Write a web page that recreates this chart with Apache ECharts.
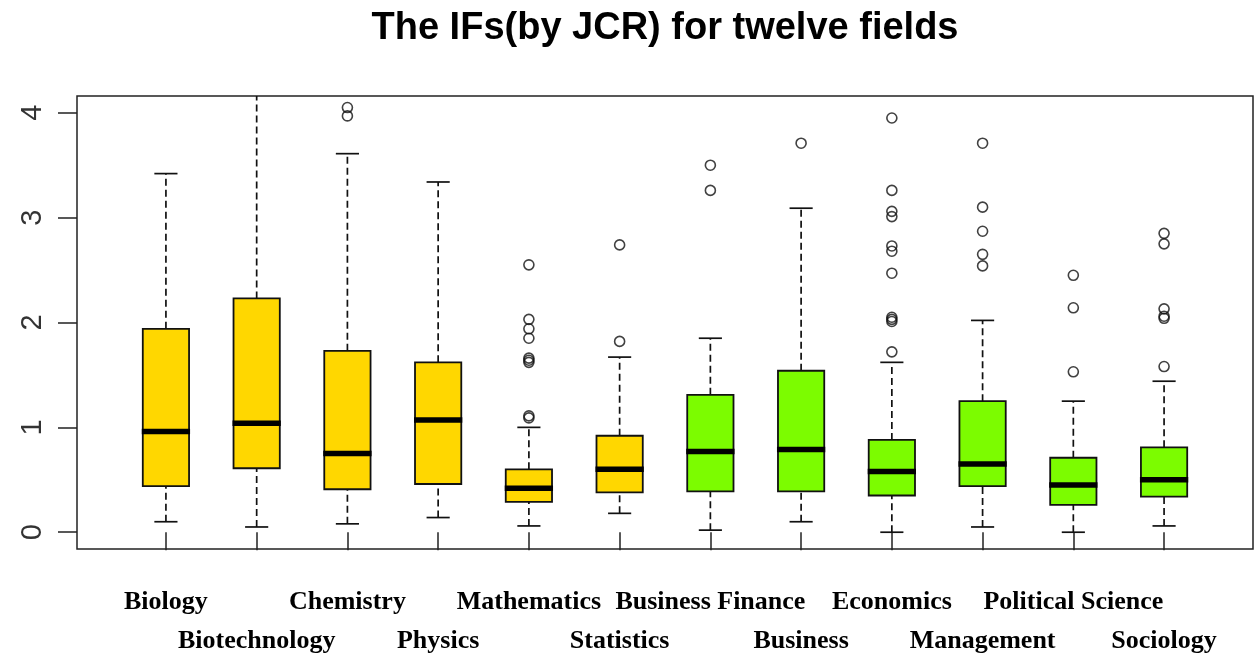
<!DOCTYPE html>
<html>
<head>
<meta charset="utf-8">
<script src="https://cdn.jsdelivr.net/npm/echarts@6/dist/echarts.min.js"></script>
<style>
  html, body { margin: 0; padding: 0; background: #fff; }
  #chart { width: 1255px; height: 661px; }
</style>
</head>
<body>
<div id="chart"></div>
<script>
// Journal impact factors (JCR) per field: five-number summaries plus outliers
const fields = ['Biology', 'Biotechnology', 'Chemistry', 'Physics', 'Mathematics', 'Statistics',
  'Business Finance', 'Business', 'Economics', 'Management', 'Political Science', 'Sociology'];
// 0 = natural sciences (gold), 1 = social sciences (green)
const fieldGroup = [0, 0, 0, 0, 0, 0, 1, 1, 1, 1, 1, 1];
const whiskerLow  = [0.10, 0.05, 0.08, 0.14, 0.06, 0.18, 0.02, 0.10, 0.00, 0.05, 0.00, 0.06];
const quartile1   = [0.44, 0.61, 0.41, 0.46, 0.29, 0.38, 0.39, 0.39, 0.35, 0.44, 0.26, 0.34];
const medians     = [0.96, 1.04, 0.75, 1.07, 0.42, 0.60, 0.77, 0.79, 0.58, 0.65, 0.45, 0.50];
const quartile3   = [1.94, 2.23, 1.73, 1.62, 0.60, 0.92, 1.31, 1.54, 0.88, 1.25, 0.71, 0.81];
const whiskerHigh = [3.42, 4.50, 3.61, 3.34, 1.00, 1.67, 1.85, 3.09, 1.62, 2.02, 1.25, 1.44];
const outliers = [
  [],
  [],
  [4.05, 3.97],
  [],
  [2.55, 2.03, 1.94, 1.85, 1.66, 1.64, 1.62, 1.11, 1.09],
  [2.74, 1.82],
  [3.50, 3.26],
  [3.71],
  [3.95, 3.26, 3.06, 3.01, 2.73, 2.68, 2.47, 2.05, 2.03, 2.01, 1.72],
  [3.71, 3.10, 2.87, 2.65, 2.54],
  [2.45, 2.14, 1.53],
  [2.85, 2.75, 2.13, 2.06, 2.04, 1.58]
];
const yTicks = [0, 1, 2, 3, 4];
const groupColors = ['#FFD700', '#7CFC00'];

const positions = fields.map((f, i) => i + 1);
const rowOne = positions.filter(p => p % 2 === 1);
const rowTwo = positions.filter(p => p % 2 === 0);

const boxData = fields.map((f, i) => [i + 1, whiskerLow[i], quartile1[i], medians[i], quartile3[i], whiskerHigh[i], fieldGroup[i]]);
const outlierData = [];
outliers.forEach((vals, i) => vals.forEach(v => outlierData.push([i + 1, v])));

const HALF = 0.255;        // half box width, in axis units
const INK = '#111';

function renderBox(params, api) {
  const x = api.value(0);
  const lo = api.value(1), q1 = api.value(2), med = api.value(3), q3 = api.value(4), hi = api.value(5);
  const col = groupColors[api.value(6)];
  const c = (dx, v) => api.coord([x + dx, v]);
  const dash = { stroke: INK, lineWidth: 1.7, lineDash: [7, 4] };
  const solid = { stroke: INK, lineWidth: 1.7 };
  const line = (a, b, style) => ({ type: 'line', shape: { x1: a[0], y1: a[1], x2: b[0], y2: b[1] }, style });
  const tl = c(-HALF, q3), br = c(HALF, q1);
  return {
    type: 'group',
    children: [
      line(c(0, q3), c(0, hi), dash),
      line(c(0, lo), c(0, q1), dash),
      line(c(-HALF / 2, hi), c(HALF / 2, hi), solid),
      line(c(-HALF / 2, lo), c(HALF / 2, lo), solid),
      { type: 'rect', shape: { x: tl[0], y: tl[1], width: br[0] - tl[0], height: br[1] - tl[1] },
        style: { fill: col, stroke: INK, lineWidth: 1.8 } },
      { type: 'line', shape: { x1: tl[0] - 1, y1: c(0, med)[1], x2: br[0] + 1, y2: c(0, med)[1] },
        style: { stroke: '#000', lineWidth: 5.5 } }
    ]
  };
}

const labelFont = { fontFamily: 'Liberation Serif', fontWeight: 'bold', fontSize: 26, color: '#000' };
const tickStyle = { color: '#222', width: 1.5 };

const chart = echarts.init(document.getElementById('chart'), null, { renderer: 'canvas' });
chart.setOption({
  animation: false,
  backgroundColor: '#fff',
  title: {
    text: 'The IFs(by JCR) for twelve fields',
    left: 665, top: 10, padding: 0, textAlign: 'center',
    textStyle: { fontFamily: 'Liberation Sans', fontWeight: 'bold', fontSize: 38, color: '#000' }
  },
  grid: {
    left: 77, right: 2, top: 96, bottom: 112,
    show: true, borderColor: '#222', borderWidth: 1.5,
    outerBoundsMode: 'none'
  },
  xAxis: [{
    type: 'value', min: 0.02, max: 12.98, position: 'bottom',
    axisLine: { show: false }, splitLine: { show: false },
    axisTick: { show: true, customValues: positions, length: 18, lineStyle: tickStyle },
    axisLabel: Object.assign({ customValues: rowOne, formatter: v => fields[v - 1], margin: 53, verticalAlign: 'middle' }, labelFont)
  }, {
    type: 'value', min: 0.02, max: 12.98, position: 'bottom',
    axisLine: { show: false }, splitLine: { show: false }, axisTick: { show: false },
    axisLabel: Object.assign({ customValues: rowTwo, formatter: v => fields[v - 1], margin: 92, verticalAlign: 'middle' }, labelFont)
  }],
  yAxis: {
    type: 'value', min: -0.16, max: 4.16,
    axisLine: { show: false }, splitLine: { show: false },
    axisTick: { show: true, customValues: yTicks, length: 19, lineStyle: tickStyle },
    axisLabel: { customValues: yTicks, rotate: 90, margin: 30, fontFamily: 'Liberation Sans', fontSize: 29, color: '#333' }
  },
  series: [{
    type: 'custom',
    renderItem: renderBox,
    clip: true,
    encode: { x: 0, y: [1, 2, 3, 4, 5] },
    data: boxData,
    silent: true
  }, {
    type: 'scatter',
    data: outlierData,
    symbol: 'circle',
    symbolSize: 10,
    clip: true,
    itemStyle: { color: 'rgba(0,0,0,0)', borderColor: INK, borderWidth: 1.6 },
    silent: true
  }]
});
</script>
</body>
</html>
